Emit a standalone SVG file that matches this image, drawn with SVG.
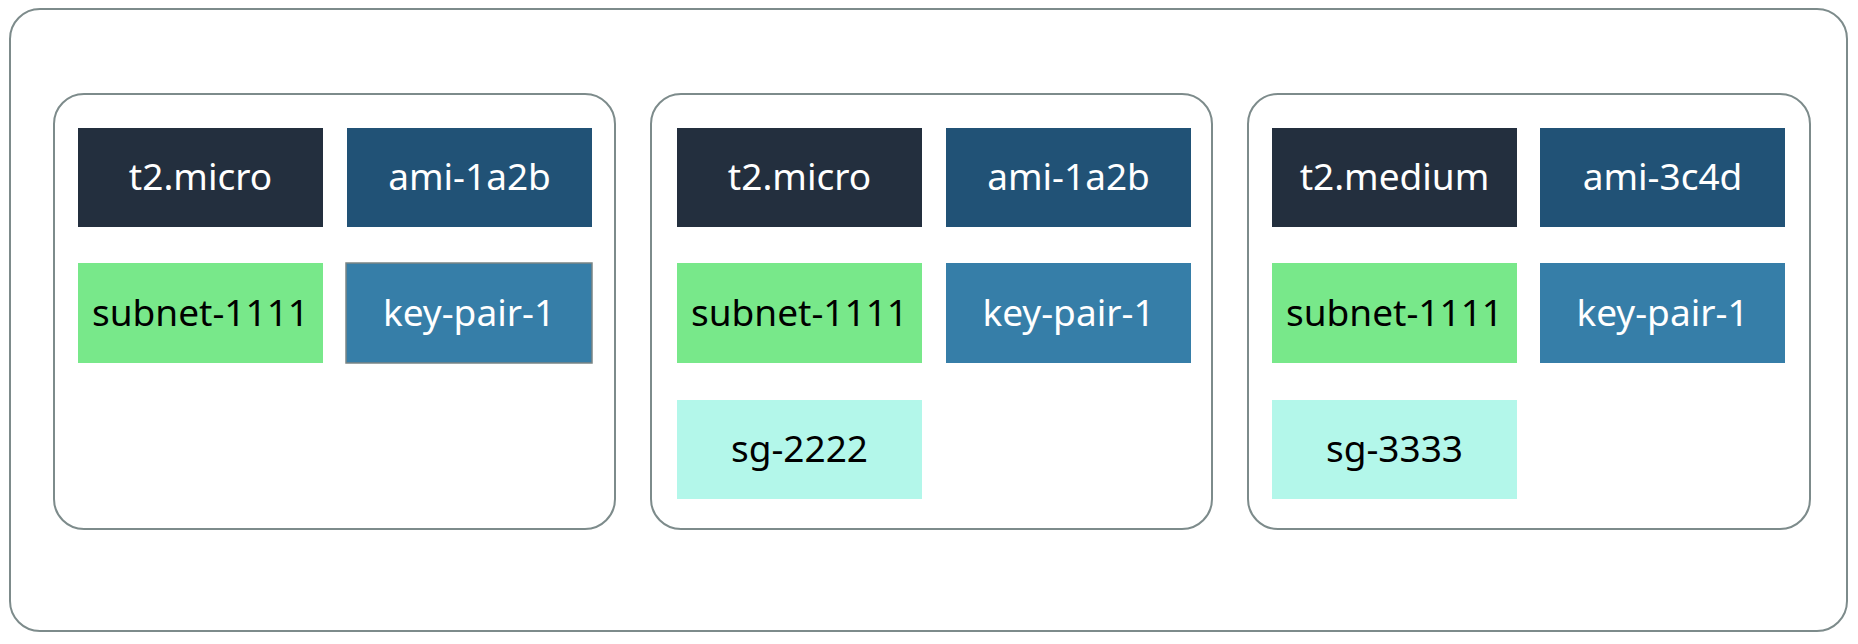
<svg xmlns="http://www.w3.org/2000/svg" width="1858" height="644" viewBox="0 0 1858 644">
<style>
.frame{fill:#fff;stroke:#7d8b8b;stroke-width:2}
.t{font-family:"Noto Sans","Liberation Sans",sans-serif;font-size:37px;text-anchor:middle}
.w{fill:#fff}
.k{fill:#000}
.type{fill:#232f3e}
.ami{fill:#215276}
.subnet{fill:#78e88a}
.key{fill:#367ea8}
.sg{fill:#b3f7ea}
</style>
<rect width="1858" height="644" fill="#fff"/>
<rect id="outer" class="frame" x="10" y="9" width="1837" height="622" rx="30"/>
<g id="connectors"/>
<g id="instance-1">
<rect class="frame" x="54" y="94" width="561" height="435" rx="30"/>
<g id="i1-type"><rect class="type" x="78" y="128" width="245" height="99"/><text class="t w" x="200.5" y="190">t2.micro</text></g>
<g id="i1-ami"><rect class="ami" x="347" y="128" width="245" height="99"/><text class="t w" x="469.5" y="190">ami-1a2b</text></g>
<g id="i1-subnet"><rect class="subnet" x="78" y="263" width="245" height="100"/><text class="t k" x="200.5" y="326">subnet-1111</text></g>
<g id="i1-key"><rect class="key" x="346" y="263" width="246" height="100" stroke="#7a8585" stroke-width="1.5"/><text class="t w" x="469" y="326">key-pair-1</text></g>
</g>
<g id="instance-2">
<rect class="frame" x="651" y="94" width="561" height="435" rx="30"/>
<g id="i2-type"><rect class="type" x="677" y="128" width="245" height="99"/><text class="t w" x="799.5" y="190">t2.micro</text></g>
<g id="i2-ami"><rect class="ami" x="946" y="128" width="245" height="99"/><text class="t w" x="1068.5" y="190">ami-1a2b</text></g>
<g id="i2-subnet"><rect class="subnet" x="677" y="263" width="245" height="100"/><text class="t k" x="799.5" y="326">subnet-1111</text></g>
<g id="i2-key"><rect class="key" x="946" y="263" width="245" height="100"/><text class="t w" x="1068.5" y="326">key-pair-1</text></g>
<g id="i2-sg"><rect class="sg" x="677" y="400" width="245" height="99"/><text class="t k" x="799.5" y="462">sg-2222</text></g>
</g>
<g id="instance-3">
<rect class="frame" x="1248" y="94" width="562" height="435" rx="30"/>
<g id="i3-type"><rect class="type" x="1272" y="128" width="245" height="99"/><text class="t w" x="1394.5" y="190">t2.medium</text></g>
<g id="i3-ami"><rect class="ami" x="1540" y="128" width="245" height="99"/><text class="t w" x="1662.5" y="190">ami-3c4d</text></g>
<g id="i3-subnet"><rect class="subnet" x="1272" y="263" width="245" height="100"/><text class="t k" x="1394.5" y="326">subnet-1111</text></g>
<g id="i3-key"><rect class="key" x="1540" y="263" width="245" height="100"/><text class="t w" x="1662.5" y="326">key-pair-1</text></g>
<g id="i3-sg"><rect class="sg" x="1272" y="400" width="245" height="99"/><text class="t k" x="1394.5" y="462">sg-3333</text></g>
</g>
</svg>
